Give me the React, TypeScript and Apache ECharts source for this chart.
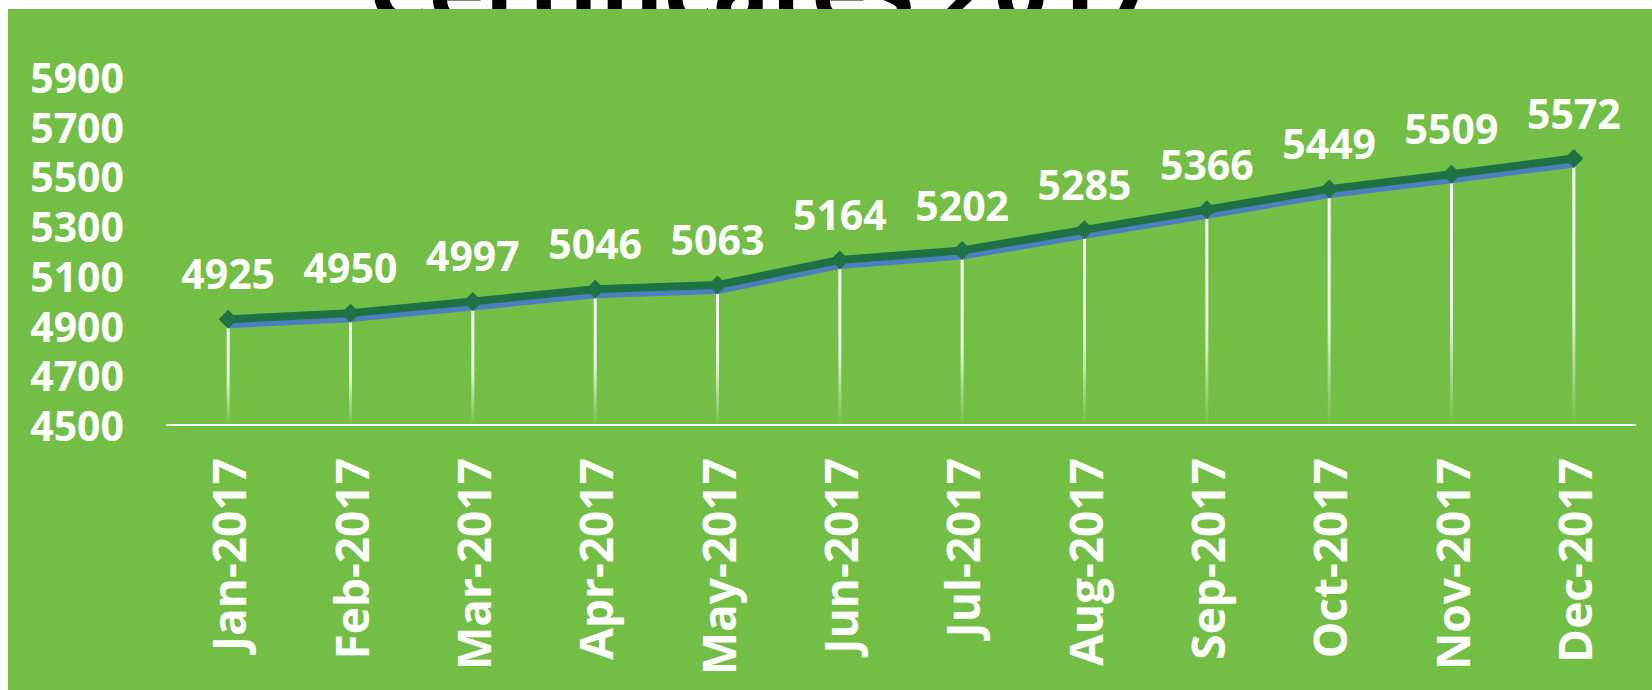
import React, { useEffect, useRef } from "react";
import * as echarts from "echarts";

const titleText = "Certificates 2017";
const categories = [
  "Jan-2017", "Feb-2017", "Mar-2017", "Apr-2017", "May-2017", "Jun-2017",
  "Jul-2017", "Aug-2017", "Sep-2017", "Oct-2017", "Nov-2017", "Dec-2017",
];
const values = [4925, 4950, 4997, 5046, 5063, 5164, 5202, 5285, 5366, 5449, 5509, 5572];
const yMin = 4500;
const yMax = 5900;
const yInterval = 200;

const FONT = "'Open Sans', 'Noto Sans', sans-serif";
const BG = "#73BF45";
const LINE = "#1F7244";
const SHADOW = "#4E7FC0";

export default function App() {
  const ref = useRef<HTMLDivElement>(null);
  useEffect(() => {
    if (!ref.current) return;
    const chart = echarts.init(ref.current, null, { renderer: "svg" });
    chart.setOption({
      animation: false,
      backgroundColor: "#ffffff",
      graphic: [
        {
          type: "text",
          z: -2,
          left: 368,
          top: -62,
          style: {
            text: titleText,
            font: `bold 95px ${FONT}`,
            fill: "#000000",
          },
        },
        {
          type: "rect",
          z: -1,
          shape: { x: 8, y: 9, width: 1700, height: 700 },
          style: { fill: BG },
          silent: true,
        },
      ],
      grid: { left: 167, right: 17, top: 77, bottom: 265, containLabel: false },
      xAxis: {
        type: "category",
        data: categories,
        boundaryGap: true,
        axisLine: { show: true, lineStyle: { color: "#ffffff", width: 2 } },
        axisTick: { show: false },
        axisLabel: {
          rotate: 90,
          margin: 33,
          color: "#ffffff",
          fontFamily: FONT,
          fontWeight: "bold",
          fontSize: 46,
          interval: 0,
        },
        splitLine: { show: false },
      },
      yAxis: {
        type: "value",
        min: yMin,
        max: yMax,
        interval: yInterval,
        axisLine: { show: false },
        axisTick: { show: false },
        splitLine: { show: false },
        axisLabel: {
          margin: 43,
          color: "#ffffff",
          fontFamily: FONT,
          fontWeight: "bold",
          fontSize: 41,
          lineHeight: 42,
          formatter: (v: number) => String(v),
        },
      },
      series: [
        {
          type: "bar",
          data: values,
          barWidth: 3,
          silent: true,
          z: 1,
          itemStyle: {
            color: new echarts.graphic.LinearGradient(0, 0, 0, 1, [
              { offset: 0, color: "rgba(255,255,255,1)" },
              { offset: 0.55, color: "rgba(255,255,255,0.85)" },
              { offset: 1, color: "rgba(255,255,255,0)" },
            ]),
          },
        },
        {
          type: "line",
          data: values,
          z: 3,
          symbol: "diamond",
          symbolSize: 19,
          itemStyle: { color: LINE },
          lineStyle: {
            color: LINE,
            width: 8,
            shadowColor: SHADOW,
            shadowBlur: 0,
            shadowOffsetX: 0,
            shadowOffsetY: 5,
          },
          label: {
            show: true,
            position: "top",
            distance: 16,
            color: "#ffffff",
            fontFamily: FONT,
            fontWeight: "bold",
            fontSize: 41,
          },
        },
      ],
    });
    return () => chart.dispose();
  }, []);
  return (
    <div
      ref={ref}
      style={{ position: "absolute", left: 0, top: 0, width: 1652, height: 690 }}
    />
  );
}
